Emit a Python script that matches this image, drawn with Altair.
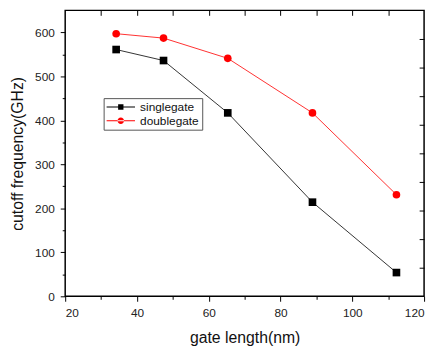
import altair as alt
import pandas as pd

series_names = ["singlegate", "doublegate"]
gate_single = [34.2, 47.4, 65.3, 88.9, 112.3]
freq_single = [561, 536, 417, 214, 54]
gate_double = [34.2, 47.4, 65.3, 88.9, 112.3]
freq_double = [597, 587, 541, 417, 231]
series_colors = ["#000000", "#ff0000"]
line_colors = ["#333333", "#ff3030"]
shapes = ["square", "circle"]

x_major = [20, 40, 60, 80, 100, 120]
x_minor = [30, 50, 70, 90, 110]
x_top = [30, 40, 50, 60, 70, 80, 90, 100, 110]
y_major = [0, 100, 200, 300, 400, 500, 600]
y_minor = [50, 150, 250, 350, 450, 550]
y_right = [65, 130, 195, 260, 325, 390, 455, 520, 585]

df = pd.DataFrame({
    "gate": gate_single + gate_double,
    "freq": freq_single + freq_double,
    "series": [series_names[0]] * len(gate_single) + [series_names[1]] * len(gate_double),
})

FONT = "Liberation Sans"
xs = alt.Scale(domain=[20, 120], nice=False, zero=False)
ys = alt.Scale(domain=[0, 650], nice=False, zero=False)

base = alt.Chart(df)

lines = base.mark_line(strokeWidth=1).encode(
    x=alt.X("gate:Q", scale=xs, axis=alt.Axis(
        orient="bottom", values=x_major, title="gate length(nm)", tickSize=5,
        labelPadding=6, titlePadding=12, domain=False, grid=False)),
    y=alt.Y("freq:Q", scale=ys, axis=alt.Axis(
        orient="left", values=y_major, title="cutoff frequency(GHz)", tickSize=5,
        labelPadding=6, titlePadding=9, domain=False, grid=False)),
    color=alt.Color("series:N", scale=alt.Scale(domain=series_names, range=line_colors), legend=None),
    detail="series:N",
)

points = base.mark_point(filled=True, size=60, opacity=1).encode(
    x=alt.X("gate:Q", scale=xs, axis=alt.Axis(
        orient="top", values=x_top, labels=False, title=None, tickSize=5, offset=-5,
        domain=False, grid=False)),
    y=alt.Y("freq:Q", scale=ys, axis=alt.Axis(
        orient="right", values=y_right, labels=False, title=None, tickSize=5, offset=-5,
        domain=False, grid=False)),
    shape=alt.Shape("series:N", scale=alt.Scale(domain=series_names, range=shapes), legend=None),
    fill=alt.Fill("series:N", scale=alt.Scale(domain=series_names, range=series_colors), legend=None),
)

minor = base.mark_point(opacity=0).encode(
    x=alt.X("gate:Q", scale=xs, axis=alt.Axis(
        orient="bottom", values=x_minor, labels=False, title=None, tickSize=3,
        domain=False, grid=False)),
    y=alt.Y("freq:Q", scale=ys, axis=alt.Axis(
        orient="left", values=y_minor, labels=False, title=None, tickSize=3,
        domain=False, grid=False)),
)

# legend glyphs: a line segment with the marker in its middle (unit = 6px)
sym_single = "M-1,-0.08H3.8V0.08H-1ZM1.1,-0.45H1.7V0.45H1.1ZM0.95,-0.45H1.85V0.45H0.95Z"
sym_double = "M-1,-0.08H3.8V0.08H-1ZM0.85,0A0.55,0.55,0,1,0,1.95,0A0.55,0.55,0,1,0,0.85,0Z"

leg = alt.Legend(
    title=None, orient="none", legendX=39, legendY=89,
    symbolSize=144, symbolStrokeWidth=0, symbolOpacity=1,
    labelOffset=22, rowPadding=2,
    labelFont=FONT, labelFontSize=12, labelColor="#111111",
    strokeColor="#555555", padding=3,
)

legend_layer = base.transform_filter("false").mark_point(filled=True, size=144).encode(
    x=alt.X("gate:Q", scale=xs, axis=None),
    y=alt.Y("freq:Q", scale=ys, axis=None),
    shape=alt.Shape("series:N", scale=alt.Scale(domain=series_names, range=[sym_single, sym_double]), legend=leg),
    fill=alt.Fill("series:N", scale=alt.Scale(domain=series_names, range=series_colors), legend=leg),
)

chart = alt.layer(lines, points, minor, legend_layer).resolve_axis(
    x="independent", y="independent"
).resolve_scale(x="shared", y="shared", shape="independent", fill="independent").properties(
    width=364, height=290,
    autosize=alt.AutoSizeParams(type="none"),
    padding={"left": 58, "top": 0, "right": 6, "bottom": 50},
).configure_view(
    stroke="#000000", strokeWidth=1.5
).configure_axis(
    labelFont=FONT, labelFontSize=12, labelColor="#222222",
    titleFont=FONT, titleFontSize=16, titleFontWeight="normal", titleColor="#111111",
    tickColor="#000000", tickWidth=1,
)

chart.save("out.html", embed_options={"renderer": "svg", "actions": False})
